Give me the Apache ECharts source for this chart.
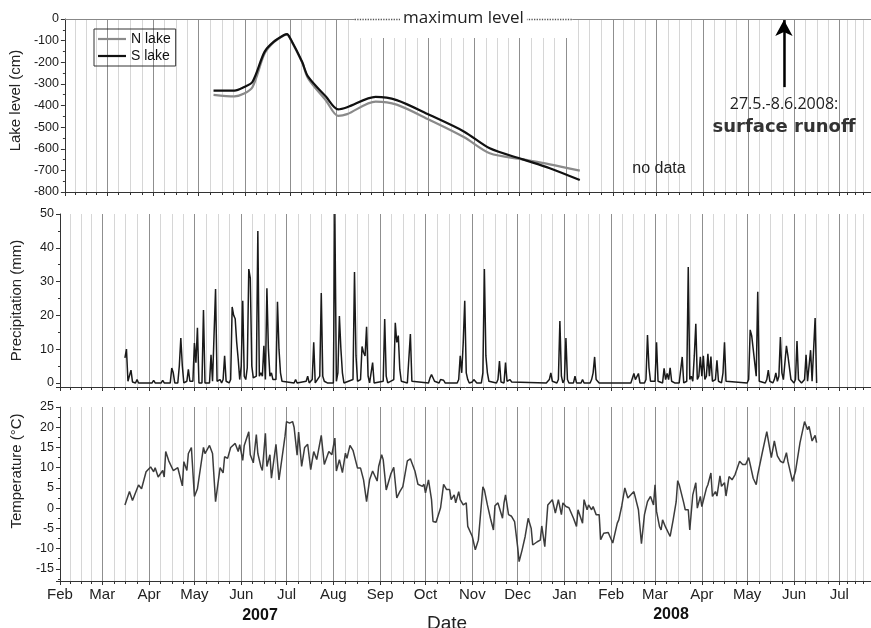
<!DOCTYPE html>
<html style="height: 100%;">
  <head>
    <meta charset="utf-8" />
  </head>
  <body style="height: 100%; margin: 0; background: #fff;">
    <div id="container" style="width: 871px; height: 628px;"></div>
    <script src="https://cdn.jsdelivr.net/npm/echarts@6/dist/echarts.min.js"></script>
    <script type="text/javascript">
      // all days are counted from 1 Feb 2007
      var lakeDays = [99, 113, 119, 125, 133, 139, 146, 148, 150, 158, 162, 174, 182, 188, 207, 221, 243, 266, 283, 305, 323, 343];
      var lakeN = [-351, -358, -346, -314, -160, -108, -75, -72, -90, -200, -275, -378, -448, -440, -382, -396, -467, -547, -621, -649, -672, -701];
      var lakeS = [-331, -331, -316, -290, -152, -106, -74, -70, -88, -198, -267, -360, -418, -408, -360, -375, -444, -521, -598, -649, -690, -745];

      var precip = [
        [43, 7.4], [44, 10], [45, 0.5], [46, 0], [47, 3.8], [48, 0.3], [50, 0], [51, 1], [52, 0], [61, 0], [62, 0.8], [63, 0],
        [67, 0], [68, 0.8], [69, 0], [73, 0], [74, 4.4], [75, 3], [76, 0], [78, 0], [79, 5], [80, 13.3], [81, 5], [82, 0],
        [84, 0.5], [85, 4], [86, 0.5], [88, 0.5], [89, 11.8], [90, 6], [91, 16.3], [92, 0], [94, 0], [95, 21.6], [96, 0],
        [99, 0], [100, 8.3], [101, 0.5], [102, 1], [103, 27.8], [104, 0.5], [105, 0.5], [106, 1], [107, 0], [108, 1],
        [109, 8], [110, 0.5], [111, 0.8], [112, 0], [113, 1], [114, 22.5], [115, 20], [116, 19], [117, 12], [118, 7],
        [119, 1], [120, 5], [121, 24.3], [122, 2], [123, 1], [124, 4.5], [125, 33.7], [126, 31], [127, 5], [128, 1.5],
        [129, 1], [130, 2], [131, 45], [132, 2], [133, 3], [134, 2], [135, 11], [136, 1], [137, 28], [138, 10], [139, 2],
        [140, 3], [141, 1], [142, 0.5], [143, 1], [144, 24], [145, 10], [146, 3], [147, 0.5], [148, 0], [155, 0], [156, 1],
        [157, 0], [163, 0.5], [164, 2], [165, 0], [167, 1], [168, 12], [169, 0], [172, 2], [173, 26.6], [174, 2], [175, 0.5],
        [176, 0.5], [177, 0], [181, 0], [182, 50], [183, 0.5], [184, 3], [185, 19.8], [186, 10], [187, 3], [188, 0], [194, 1],
        [195, 32.8], [196, 8], [197, 0.5], [198, 0], [199, 1], [200, 10.8], [201, 9], [202, 8], [203, 16.6], [204, 2], [205, 0],
        [206, 0], [207, 6], [208, 0], [214, 0.5], [215, 18.9], [216, 2], [217, 0], [221, 1], [222, 17.8], [223, 12], [224, 14],
        [225, 4], [226, 0.5], [227, 0.3], [230, 0], [231, 0.5], [232, 14.5], [233, 0.5], [234, 0], [244, 0], [245, 1.5],
        [246, 2.5], [247, 2], [248, 0.5], [249, 0], [251, 0], [252, 1], [253, 0.5], [254, 0.8], [255, 0], [263, 0], [264, 1],
        [265, 8], [266, 3], [267, 12], [268, 24.3], [269, 3], [270, 1], [271, 0], [273, 0.3], [274, 1], [275, 0.5], [276, 0],
        [279, 0], [280, 3], [281, 33.7], [282, 8], [283, 3], [284, 0.5], [285, 0], [289, 0], [290, 1], [291, 6.5], [292, 0.3],
        [294, 0], [295, 6], [296, 0.5], [297, 0], [298, 1], [299, 0.3], [300, 0], [322, 0], [323, 0.3], [324, 1], [325, 3],
        [326, 0.5], [327, 0], [329, 0], [330, 1], [331, 18.3], [332, 2], [333, 0], [334, 1], [335, 13.3], [336, 1], [337, 0],
        [340, 0], [341, 2], [342, 0], [345, 0], [346, 1], [347, 0], [351, 0], [352, 1], [353, 3], [354, 7.7], [355, 1],
        [356, 0.5], [357, 0], [378, 0], [379, 0.3], [380, 2.8], [381, 1], [382, 0.5], [383, 2.8], [384, 0], [387, 0], [388, 1],
        [389, 14.2], [390, 4.5], [391, 0.5], [392, 0], [394, 0.5], [395, 12], [396, 0.5], [397, 0], [399, 0], [400, 4.3],
        [401, 1], [402, 2.8], [403, 1], [404, 4.5], [405, 0.5], [406, 0.3], [407, 0], [410, 0], [411, 0.5], [412, 7.7],
        [413, 0], [415, 0.5], [416, 34.3], [417, 1], [418, 2], [419, 0.5], [420, 8], [421, 17.5], [422, 1], [423, 2],
        [424, 7.7], [425, 2], [426, 8], [427, 1], [428, 2], [429, 8.6], [430, 2], [431, 7.8], [432, 0.5], [433, 0], [434, 1],
        [435, 6.7], [436, 0.5], [437, 0.5], [438, 0], [439, 3], [440, 12], [441, 0.5], [442, 0], [455, 0], [456, 1],
        [457, 15.7], [458, 14], [459, 13.5], [460, 6], [461, 2], [462, 27], [463, 0.5], [464, 0], [467, 0], [468, 1],
        [469, 3.8], [470, 0.5], [471, 0], [472, 0], [473, 1], [474, 3], [475, 0.5], [476, 2], [477, 13.6], [478, 3], [479, 1],
        [480, 1], [481, 11], [482, 8], [483, 7.7], [484, 1], [485, 0.5], [486, 0], [487, 1], [488, 12.4], [489, 1],
        [490, 0.5], [491, 0], [492, 0], [493, 1], [494, 8.3], [495, 0.5], [496, 0], [497, 9.7], [498, 0.5], [499, 1],
        [500, 19.2], [501, 0]
      ];

      var temp = [
        [43, 0.8], [46, 4.1], [48, 1.9], [52, 5.7], [54, 4.8], [57, 9], [60, 10.2], [62, 9], [63, 10], [65, 7.7], [68, 9.3],
        [69, 7.7], [70, 14], [72, 11.7], [75, 9.3], [78, 10], [81, 5.5], [82, 11.5], [84, 9.3], [85, 13.5], [87, 15],
        [89, 2.9], [91, 4.8], [95, 15], [96, 13.5], [99, 15.5], [101, 13.5], [103, 1.6], [106, 10], [108, 8.7], [109, 12.7],
        [111, 12.3], [113, 15], [116, 16], [118, 14], [119, 15.7], [121, 11.8], [122, 15.5], [125, 18.9], [126, 13.2],
        [128, 11.2], [130, 18.2], [131, 13.5], [133, 10.3], [134, 9.3], [136, 18.5], [137, 10.3], [139, 13.2], [140, 7.4],
        [143, 15.8], [145, 7], [146, 7.4], [149, 17.8], [150, 21.4], [152, 21], [154, 21.4], [155, 20], [157, 13.1],
        [158, 18.8], [160, 10.3], [162, 15], [164, 15.8], [166, 9.5], [168, 14], [170, 12], [173, 18], [175, 10.8], [178, 14],
        [180, 13.2], [182, 17.3], [183, 9.2], [185, 12], [187, 8.8], [189, 13.6], [190, 12.3], [192, 15.5], [194, 14.3],
        [197, 9.9], [199, 9.9], [201, 7], [203, 1.6], [204, 1.6], [205, 7], [207, 9.2], [210, 6.7], [211, 10.3], [213, 13.2],
        [214, 12], [216, 4.5], [219, 8.4], [221, 10.1], [223, 2.5], [225, 4.1], [227, 5.3], [228, 7.4], [230, 11.7],
        [232, 12.2], [235, 9.2], [237, 5.9], [238, 6.3], [240, 5.4], [241, 5.9], [242, 3.8], [244, 7], [246, 2.1], [247, -3.3],
        [249, -3.5], [252, 0.1], [254, 5.9], [256, 4.6], [258, 4.6], [259, 2.1], [261, 3.3], [262, 1.3], [264, 4.1], [265, 2.1],
        [267, 0.8], [269, 1.3], [270, -4.5], [271, -4.1], [273, -7], [275, -10.3], [276, -10.7], [277, -7.9], [280, 5.3],
        [281, 4.5], [283, 0.8], [285, -2.5], [287, -5.4], [288, 0.6], [290, 1.3], [293, -2.5], [294, 1.3], [295, 3.3],
        [297, -1.6], [299, -2], [301, -3.3], [303, -9.5], [304, -13.2], [306, -10.3], [308, -7], [310, -2.5], [312, -5],
        [313, -9.1], [316, -8.3], [318, -7.9], [319, -4.4], [321, -9.5], [322, -9.5], [323, 0.8], [326, 2.1], [328, -1.2],
        [330, 2.1], [332, -1.6], [333, 1.3], [335, 0.4], [337, 0.1], [340, -2.5], [342, -4.5], [343, -0.4], [346, -3.7],
        [347, 2.1], [349, -0.4], [350, 0.8], [352, -0.4], [353, 0.4], [355, -1.6], [356, -1.2], [357, -1.6], [358, -7.8],
        [360, -6.2], [361, -6.2], [363, -6], [364, -5.8], [366, -8.6], [367, -8.6], [369, -3.7], [370, -2.9], [372, 0.6],
        [374, 5], [376, 2.5], [378, 3.3], [380, 4.1], [381, 4.5], [383, -0.4], [385, -8.8], [387, -1.6], [389, 1.6],
        [390, 1.6], [391, 2.9], [393, 0.8], [394, 5.8], [395, -0.8], [397, -4.6], [398, -5.4], [399, -2.9], [401, -4.7],
        [404, -7], [406, -2.9], [408, 1.6], [409, 6.8], [410, 5.8], [413, 1.3], [414, -0.4], [416, -0.4], [417, -5.4],
        [419, 3.3], [421, 6.3], [422, 0], [424, 2.9], [425, 0.4], [428, 4.9], [429, 5.8], [431, 8.7], [432, 2.9], [434, 4.1],
        [435, 3], [437, 8], [438, 5.4], [440, 6.3], [441, 3], [443, 7.8], [445, 7], [447, 8.3], [450, 11.6], [452, 10.8],
        [454, 10.8], [456, 12.5], [457, 10.8], [459, 7.4], [461, 5.8], [462, 8.3], [465, 13.7], [468, 18.9], [469, 18.5],
        [471, 12.5], [473, 16.6], [475, 12.9], [477, 11.6], [479, 11.2], [481, 13.7], [482, 11.5], [485, 6.6], [487, 9.1],
        [488, 9.5], [490, 16.2], [491, 16.6], [493, 21.4], [495, 19.4], [496, 20.2], [498, 16.6], [500, 18], [501, 16.2]
      ];

      var months = ["Jan", "Feb", "Mar", "Apr", "May", "Jun", "Jul", "Aug", "Sep", "Oct", "Nov", "Dec"];
      var axisEndDay = 537;
      var maxLevelFrom = 193, maxLevelTo = 338; // dotted "maximum level" line
      var runoffDay = 479; // arrow

      var DAY = 86400000;
      var FONT = '"Liberation Sans", Arial, sans-serif';
      function toDate(d) {
        return new Date(2007, 1, 1 + d).getTime();
      }
      function pairs(list) {
        return list.map(function (p) { return [toDate(p[0]), p[1]]; });
      }

      var dom = document.getElementById("container");
      var myChart = echarts.init(dom, null, { renderer: "canvas" });

      function timeAxis(grid, showLabels) {
        return {
          type: "time",
          gridIndex: grid,
          min: toDate(0),
          max: toDate(axisEndDay),
          splitNumber: 17,
          minInterval: 30 * DAY,
          maxInterval: 32 * DAY,
          axisLine: { show: true, onZero: false, lineStyle: { color: "#333", width: 1 } },
          axisTick: { show: true, length: 4, lineStyle: { color: "#333" } },
          minorTick: { show: true, splitNumber: 4, length: 3, lineStyle: { color: "#333" } },
          splitLine: { show: true, lineStyle: { color: "#8f8f8f", width: 1 } },
          minorSplitLine: { show: true, lineStyle: { color: "#d6d6d6", width: 1 } },
          axisLabel: {
            show: showLabels,
            fontSize: 15,
            color: "#222",
            fontFamily: FONT,
            margin: 6,
            formatter: function (v) {
              return months[new Date(v).getMonth()];
            },
          },
        };
      }

      function valueAxis(grid, name, range, hideMin, namePad) {
        var ax = {
          type: "value",
          gridIndex: grid,
          name: name,
          nameLocation: "middle",
          nameGap: 36,
          nameTextStyle: { fontSize: 15, color: "#222", fontFamily: FONT, padding: namePad },
          axisLine: { show: true, onZero: false, lineStyle: { color: "#333" } },
          axisTick: { show: true, length: 4, lineStyle: { color: "#333" } },
          minorTick: { show: true, splitNumber: 2, length: 2, lineStyle: { color: "#333" } },
          splitLine: { show: false },
          axisLabel: { fontSize: 12.5, color: "#1a1a1a", fontFamily: FONT, margin: 6, showMinLabel: !hideMin },
        };
        for (var k in range) ax[k] = range[k];
        return ax;
      }

      var option = {
        animation: false,
        backgroundColor: "#fff",
        grid: [
          { left: 60, right: 0, top: 19, height: 173 },
          { left: 60, right: 0, top: 214, height: 173 },
          { left: 60, right: 0, top: 407, height: 174 },
        ],
        xAxis: [
          timeAxis(0, false),
          timeAxis(1, false),
          timeAxis(2, true),
          {
            type: "time",
            gridIndex: 0,
            position: "top",
            min: toDate(0),
            max: toDate(axisEndDay),
            axisLine: { show: true, onZero: false, lineStyle: { color: "#888" } },
            axisTick: { show: false },
            axisLabel: { show: false },
            splitLine: { show: false },
          },
        ],
        yAxis: [
          valueAxis(0, "Lake level (cm)", { min: -800, max: 0, interval: 100 }, false, [0, 0, 0, 10]),
          valueAxis(1, "Precipitation (mm)", { min: -1.2, max: 50, splitNumber: 5 }, true, [0, 0, 0, 0]),
          valueAxis(2, "Temperature (\u00b0C)", { min: -18, max: 25, splitNumber: 8 }, true, [0, 0, 0, 46]),
        ],
        legend: {
          data: ["N lake", "S lake"],
          orient: "vertical",
          left: 94,
          top: 29,
          padding: [3, 5, 3, 4],
          icon: "rect",
          itemWidth: 28,
          itemHeight: 2.2,
          itemGap: 3,
          borderColor: "#333",
          borderWidth: 1,
          borderRadius: 0,
          textStyle: { fontSize: 14, color: "#111", fontFamily: FONT, lineHeight: 14 },
        },
        series: [
          {
            name: "N lake",
            type: "line",
            xAxisIndex: 0,
            yAxisIndex: 0,
            symbol: "none",
            smooth: 0.3,
            color: "#8a8a8a",
            lineStyle: { color: "#8a8a8a", width: 2.2 },
            data: lakeDays.map(function (d, i) { return [toDate(d), lakeN[i]]; }),
          },
          {
            name: "S lake",
            type: "line",
            xAxisIndex: 0,
            yAxisIndex: 0,
            symbol: "none",
            smooth: 0.3,
            color: "#111",
            lineStyle: { color: "#111", width: 2.2 },
            data: lakeDays.map(function (d, i) { return [toDate(d), lakeS[i]]; }),
            markArea: {
              silent: true,
              itemStyle: { color: "#fff" },
              data: [[{ xAxis: toDate(maxLevelFrom), yAxis: 0 }, { xAxis: toDate(maxLevelTo), yAxis: -88 }]],
            },
            markLine: {
              silent: true,
              symbol: "none",
              data: [
                [
                  {
                    xAxis: toDate(maxLevelFrom),
                    yAxis: 0,
                    lineStyle: { type: "dotted", color: "#555", width: 1.3 },
                    label: {
                      show: true,
                      position: "middle",
                      formatter: "maximum level",
                      backgroundColor: "#fff",
                      padding: [0, 3],
                      offset: [0, 13],
                      fontFamily: '"Open Sans", sans-serif',
                      fontSize: 17,
                      color: "#222",
                    },
                  },
                  { xAxis: toDate(maxLevelTo), yAxis: 0 },
                ],
                [
                  {
                    xAxis: toDate(runoffDay),
                    yAxis: -315,
                    symbol: "none",
                    lineStyle: { type: "solid", color: "#000", width: 2.5 },
                    label: { show: false },
                  },
                  { xAxis: toDate(runoffDay), yAxis: -5, symbol: "arrow", symbolSize: [13, 16] },
                ],
              ],
            },
          },
          {
            name: "Precipitation",
            type: "line",
            xAxisIndex: 1,
            yAxisIndex: 1,
            symbol: "none",
            lineStyle: { color: "#1a1a1a", width: 1.5 },
            data: pairs(precip),
          },
          {
            name: "Temperature",
            type: "line",
            xAxisIndex: 2,
            yAxisIndex: 2,
            symbol: "none",
            lineStyle: { color: "#3c3c3c", width: 1.5 },
            data: pairs(temp),
          },
        ],
        graphic: [
          {
            type: "text", x: 784, y: 104, z: 100,
            style: { text: "27.5.-8.6.2008:", fontFamily: '"Open Sans", sans-serif', fontSize: 16, fill: "#222", align: "center", verticalAlign: "middle" },
          },
          {
            type: "text", x: 784, y: 127, z: 100,
            style: { text: "surface runoff", fontFamily: '"DejaVu Sans", sans-serif', fontWeight: "bold", fontSize: 18, fill: "#333", align: "center", verticalAlign: "middle" },
          },
          {
            type: "text", x: 659, y: 169, z: 100,
            style: { text: "no data", fontFamily: FONT, fontSize: 16, fill: "#222", align: "center", verticalAlign: "middle" },
          },
          {
            type: "text", x: 260, y: 616, z: 100,
            style: { text: "2007", fontFamily: FONT, fontWeight: "bold", fontSize: 16, fill: "#111", align: "center", verticalAlign: "middle" },
          },
          {
            type: "text", x: 671, y: 615, z: 100,
            style: { text: "2008", fontFamily: FONT, fontWeight: "bold", fontSize: 16, fill: "#111", align: "center", verticalAlign: "middle" },
          },
          {
            type: "text", x: 447, y: 624, z: 100,
            style: { text: "Date", fontFamily: FONT, fontSize: 19, fill: "#222", align: "center", verticalAlign: "middle" },
          },
        ],
      };

      myChart.setOption(option);
    </script>
  </body>
</html>
